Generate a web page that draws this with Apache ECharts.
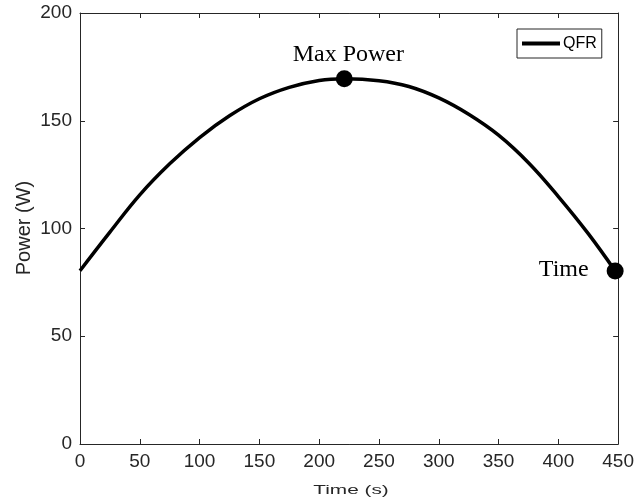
<!DOCTYPE html>
<html>
<head>
<meta charset="utf-8">
<script src="https://cdn.jsdelivr.net/npm/echarts@6/dist/echarts.min.js"></script>
<style>html,body{margin:0;padding:0;background:#fff;}#c{width:637px;height:501px;}</style>
</head>
<body>
<div id="c"></div>
<script>
const timeS  = [0, 25, 50, 75, 100, 125, 150, 175, 200, 221, 250, 275, 300, 325, 350, 375, 400, 425, 447.5];
const powerW = [80.4, 98.3, 115.6, 130, 142.2, 152.3, 160.2, 165.5, 168.7, 169.5, 168.6, 165.9, 160.6, 153, 143.3, 130.5, 114.8, 97.6, 80.3];
const seriesName = 'QFR';
const maxPowerPoint = [221, 169.5];
const endPoint = [447.5, 80.3];
const xAxisName = 'Time (s)';
const yAxisName = 'Power (W)';

const axisColor = '#262626';
const chart = echarts.init(document.getElementById('c'), null, {renderer: 'canvas'});
function baseAxis(extra) {
  return Object.assign({
    type: 'value',
    axisLine: {show: true, onZero: false, lineStyle: {color: axisColor, width: 1}},
    axisTick: {show: true, inside: true, length: 5, lineStyle: {color: axisColor}},
    splitLine: {show: false}
  }, extra);
}
const labelStyle = {show: true, color: axisColor, fontFamily: 'Liberation Sans, Arial', fontSize: 19, margin: 8};
chart.setOption({
  animation: false,
  backgroundColor: '#fff',
  grid: {left: 80, right: 16, top: 13, bottom: 57, containLabel: false},
  xAxis: [
    baseAxis({min: 0, max: 450, interval: 50, position: 'bottom', axisLabel: labelStyle}),
    baseAxis({min: 0, max: 450, interval: 50, position: 'top', axisLabel: {show: false}})
  ],
  yAxis: [
    baseAxis({min: 0, max: 200, interval: 50, position: 'left', axisLabel: labelStyle}),
    baseAxis({min: 0, max: 200, interval: 50, position: 'right', axisLabel: {show: false}})
  ],
  legend: {
    data: [seriesName], left: 517, top: 29, orient: 'horizontal',
    icon: 'rect', itemWidth: 38, itemHeight: 4, itemGap: 5,
    padding: [5, 5, 5, 5],
    itemStyle: {color: '#000'},
    borderColor: axisColor, borderWidth: 1, backgroundColor: '#fff',
    textStyle: {fontFamily: 'Liberation Sans, Arial', fontSize: 16, color: '#000', lineHeight: 19, padding: [0, 0, 0, -2]}
  },
  graphic: [
    {type: 'text', x: 351, y: 490.5, scaleX: 1.6, z: 100,
      style: {text: xAxisName, font: '13px "Liberation Sans", Arial', fill: axisColor, textAlign: 'center', textVerticalAlign: 'middle'}},
    {type: 'text', x: 24.5, y: 228, rotation: Math.PI / 2, z: 100,
      style: {text: yAxisName, font: '20px "Liberation Sans", Arial', fill: axisColor, textAlign: 'center', textVerticalAlign: 'middle'}}
  ],
  series: [
    {
      name: seriesName, type: 'line', smooth: 0.4, symbol: 'none',
      data: timeS.map((t, i) => [t, powerW[i]]),
      lineStyle: {color: '#000', width: 3.5}, itemStyle: {color: '#000'}
    },
    {
      name: 'markers', type: 'scatter', symbol: 'circle', symbolSize: 17,
      itemStyle: {color: '#000', opacity: 1}, z: 5,
      data: [
        {value: maxPowerPoint, label: {show: true, formatter: 'Max Power', position: 'top', distance: 4, offset: [4, 0]}},
        {value: endPoint, label: {show: true, formatter: 'Time', position: 'left', distance: 18, offset: [0, -1]}}
      ],
      label: {fontFamily: 'Liberation Serif, Times New Roman', fontSize: 24, color: '#000'}
    }
  ]
});
</script>
</body>
</html>
